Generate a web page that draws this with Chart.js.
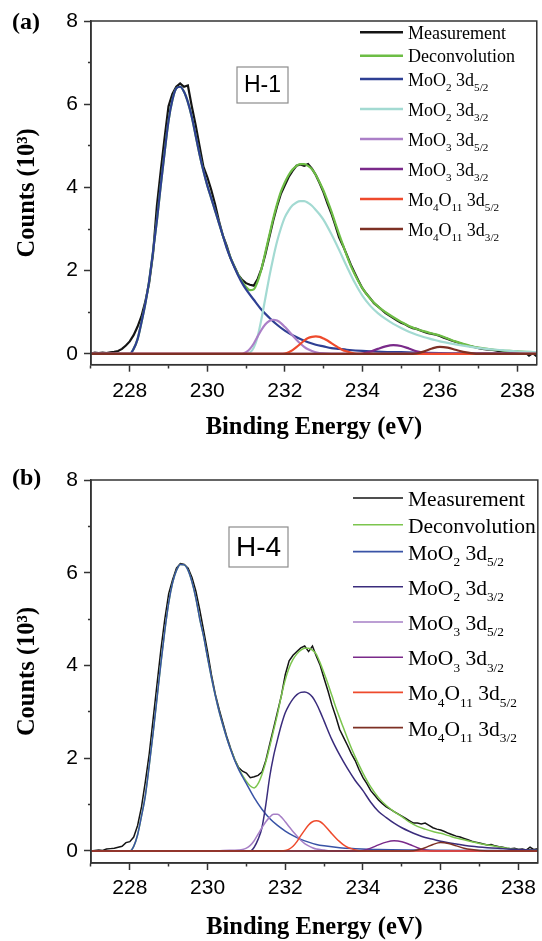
<!DOCTYPE html>
<html>
<head>
<meta charset="utf-8">
<title>Mo 3d XPS deconvolution</title>
<script src="https://cdn.jsdelivr.net/npm/chart.js@4.4.1/dist/chart.umd.min.js"></script>
<style>
  html, body { margin: 0; padding: 0; background: #fff; }
  #page { position: relative; width: 542px; height: 941px; overflow: hidden; }
  .panel { position: absolute; left: 0; width: 542px; }
  #panelA { top: 0; height: 470px; }
  #panelB { top: 450px; height: 510px; }
</style>
</head>
<body>
<div id="page">
  <div class="panel" id="panelA"><canvas id="chartA"></canvas></div>
  <div class="panel" id="panelB"><canvas id="chartB"></canvas></div>
</div>
<script>
// legend names, _{..} marks a subscript
const seriesNames = ['Measurement', 'Deconvolution', 'MoO_{2} 3d_{5/2}', 'MoO_{2} 3d_{3/2}',
  'MoO_{3} 3d_{5/2}', 'MoO_{3} 3d_{3/2}', 'Mo_{4}O_{11} 3d_{5/2}', 'Mo_{4}O_{11} 3d_{3/2}'];
const xTickLabels = [228, 230, 232, 234, 236, 238];
const yTickLabels = [0, 2, 4, 6, 8];

// measured spectra, counts (10^3) every 0.1 eV from 227.0 to 238.5
const energyStart = 227.0, energyStep = 0.1;
const measA = [
  0.01, 0.03, 0.02, 0.03, 0.02, 0.04, 0.05, 0.07, 0.12, 0.2,
  0.3, 0.45, 0.65, 0.9, 1.25, 1.7, 2.4, 3.55, 4.4, 5.2,
  5.95, 6.25, 6.42, 6.5, 6.42, 6.45, 5.95, 5.5, 5.0, 4.5,
  4.25, 3.95, 3.6, 3.2, 2.85, 2.6, 2.3, 2.1, 1.9, 1.78,
  1.7, 1.66, 1.64, 1.8, 2.05, 2.4, 2.8, 3.2, 3.55, 3.85,
  4.05, 4.25, 4.4, 4.52, 4.55, 4.52, 4.56, 4.45, 4.3, 4.1,
  3.88, 3.62, 3.38, 3.1, 2.8, 2.6, 2.38, 2.15, 1.95, 1.76,
  1.58, 1.45, 1.34, 1.22, 1.14, 1.06, 0.98, 0.92, 0.86, 0.8,
  0.75, 0.71, 0.66, 0.62, 0.6, 0.56, 0.53, 0.5, 0.48, 0.46,
  0.43, 0.39, 0.36, 0.32, 0.29, 0.26, 0.23, 0.2, 0.18, 0.16,
  0.14, 0.12, 0.11, 0.1, 0.09, 0.07, 0.07, 0.05, 0.06, 0.04,
  0.05, 0.03, 0.04, -0.04, 0.02, -0.06
];
const measB = [
  0.0, 0.01, 0.02, 0.01, 0.04, 0.05, 0.06, 0.08, 0.1, 0.18,
  0.2, 0.3, 0.55, 0.95, 1.5, 2.1, 2.85, 3.6, 4.35, 5.0,
  5.55, 5.85, 6.1, 6.2, 6.18, 6.1, 5.9, 5.6, 5.2, 4.75,
  4.3, 3.8, 3.38, 3.05, 2.75, 2.45, 2.2, 1.97, 1.8, 1.72,
  1.68, 1.58, 1.6, 1.63, 1.7, 1.95, 2.3, 2.65, 3.0, 3.35,
  3.8, 4.1, 4.22, 4.3, 4.38, 4.42, 4.3, 4.42, 4.2, 4.0,
  3.72, 3.45, 3.15, 2.9, 2.62, 2.45, 2.28, 2.1, 1.95, 1.75,
  1.58, 1.45, 1.3, 1.2, 1.1, 1.02, 0.95, 0.9, 0.85, 0.8,
  0.75, 0.7, 0.65, 0.6, 0.6, 0.58, 0.6, 0.55, 0.5, 0.47,
  0.45, 0.42, 0.38, 0.35, 0.32, 0.3, 0.27, 0.24, 0.21, 0.19,
  0.17, 0.15, 0.13, 0.14, 0.11, 0.09, 0.08, 0.06, 0.05, 0.06,
  0.03, 0.04, 0.02, 0.08, 0.03, 0.05
];

// fitted curves, [energy eV, counts 10^3]
const fitA = [[227,0],[228.0,0],[228.1,0.12],[228.2,0.35],[228.3,0.75],[228.4,1.2],[228.5,1.75],[228.6,2.45],[228.7,3.2],[228.8,4.05],[228.9,4.85],[229.0,5.6],[229.1,6.1],[229.2,6.38],[229.3,6.42],[229.4,6.3],[229.5,6.05],[229.6,5.7],[229.7,5.25],[229.8,4.8],[229.9,4.4],[230.0,4.05],[230.1,3.75],[230.2,3.45],[230.3,3.15],[230.4,2.85],[230.5,2.56],[230.6,2.31],[230.7,2.09],[230.8,1.9],[230.9,1.74],[231.0,1.61],[231.1,1.53],[231.2,1.55],[231.3,1.74],[231.4,2.05],[231.5,2.45],[231.6,2.85],[231.7,3.25],[231.8,3.6],[231.9,3.9],[232.0,4.12],[232.1,4.3],[232.2,4.43],[232.3,4.52],[232.4,4.56],[232.5,4.56],[232.6,4.52],[232.7,4.44],[232.8,4.3],[232.9,4.12],[233.0,3.92],[233.1,3.68],[233.2,3.43],[233.3,3.15],[233.4,2.88],[233.5,2.62],[233.6,2.36],[233.7,2.12],[233.8,1.92],[233.9,1.74],[234.0,1.58],[234.2,1.33],[234.4,1.14],[234.6,1.0],[234.8,0.88],[235.0,0.77],[235.2,0.67],[235.4,0.6],[235.6,0.54],[235.8,0.49],[236.0,0.44],[236.2,0.37],[236.4,0.3],[236.6,0.24],[236.8,0.19],[237.0,0.15],[237.4,0.1],[237.8,0.07],[238.2,0.05],[238.5,0.04]];
const moo2a52 = [[227,0],[228.0,0],[228.1,0.12],[228.2,0.35],[228.3,0.75],[228.4,1.2],[228.5,1.75],[228.6,2.45],[228.7,3.2],[228.8,4.05],[228.9,4.85],[229.0,5.6],[229.1,6.1],[229.2,6.38],[229.3,6.42],[229.4,6.3],[229.5,6.05],[229.6,5.7],[229.7,5.25],[229.8,4.8],[229.9,4.4],[230.0,4.05],[230.1,3.75],[230.2,3.45],[230.3,3.15],[230.4,2.85],[230.5,2.55],[230.6,2.3],[230.7,2.08],[230.8,1.88],[230.9,1.7],[231.0,1.55],[231.2,1.3],[231.4,1.06],[231.6,0.87],[231.8,0.7],[232.0,0.56],[232.2,0.45],[232.4,0.36],[232.6,0.28],[232.8,0.22],[233.0,0.18],[233.2,0.14],[233.4,0.12],[233.6,0.1],[234.0,0.07],[234.5,0.05],[235.0,0.04],[236.0,0.02],[237.0,0.01],[238.5,0.01]];
const moo2a32 = [[227,0],[231.0,0],[231.1,0.03],[231.2,0.15],[231.3,0.42],[231.4,0.85],[231.5,1.35],[231.6,1.85],[231.7,2.3],[231.8,2.7],[231.9,3.02],[232.0,3.28],[232.1,3.45],[232.2,3.57],[232.3,3.64],[232.4,3.67],[232.5,3.67],[232.6,3.63],[232.7,3.56],[232.8,3.46],[232.9,3.35],[233.0,3.22],[233.2,2.88],[233.4,2.5],[233.6,2.1],[233.8,1.72],[234.0,1.4],[234.2,1.16],[234.4,0.98],[234.6,0.84],[234.8,0.72],[235.0,0.62],[235.2,0.53],[235.4,0.46],[235.6,0.4],[235.8,0.35],[236.0,0.3],[236.4,0.23],[236.8,0.17],[237.2,0.12],[237.6,0.09],[238.0,0.06],[238.5,0.04]];
const moo3a52 = [[227,0],[230.9,0],[231.0,0.04],[231.1,0.12],[231.2,0.25],[231.3,0.42],[231.4,0.58],[231.5,0.71],[231.6,0.79],[231.7,0.82],[231.8,0.8],[231.9,0.74],[232.0,0.65],[232.1,0.55],[232.2,0.44],[232.3,0.34],[232.4,0.25],[232.5,0.17],[232.6,0.11],[232.7,0.07],[232.8,0.04],[233.0,0.01],[233.2,0],[238.5,0]];
const moo3a32 = [[227,0],[233.9,0],[234.0,0.01],[234.2,0.05],[234.4,0.12],[234.6,0.18],[234.8,0.21],[235.0,0.19],[235.2,0.13],[235.4,0.06],[235.6,0.02],[235.8,0],[238.5,0]];
const mo4o11a52 = [[227,0],[231.9,0],[232.0,0.01],[232.1,0.04],[232.2,0.09],[232.3,0.16],[232.4,0.24],[232.5,0.32],[232.6,0.38],[232.7,0.41],[232.8,0.42],[232.9,0.41],[233.0,0.37],[233.1,0.32],[233.2,0.26],[233.3,0.2],[233.4,0.14],[233.5,0.09],[233.6,0.06],[233.7,0.03],[233.8,0.01],[233.9,0],[238.5,0]];
const mo4o11a32 = [[227,0],[235.3,0],[235.4,0.01],[235.6,0.06],[235.8,0.13],[236.0,0.17],[236.2,0.15],[236.4,0.1],[236.6,0.05],[236.8,0.02],[237.0,0],[238.5,0]];

const fitB = [[227,0],[228.0,0],[228.1,0.1],[228.2,0.35],[228.3,0.75],[228.4,1.2],[228.5,1.85],[228.6,2.55],[228.7,3.3],[228.8,4.05],[228.9,4.75],[229.0,5.35],[229.1,5.78],[229.2,6.05],[229.3,6.18],[229.4,6.17],[229.5,6.05],[229.6,5.8],[229.7,5.45],[229.8,5.0],[229.9,4.62],[230.0,4.17],[230.1,3.74],[230.2,3.35],[230.3,3.0],[230.4,2.7],[230.5,2.42],[230.6,2.18],[230.7,1.97],[230.8,1.78],[230.9,1.63],[231.0,1.5],[231.1,1.4],[231.2,1.36],[231.3,1.45],[231.4,1.65],[231.5,1.92],[231.6,2.25],[231.7,2.6],[231.8,2.95],[231.9,3.35],[232.0,3.69],[232.1,3.95],[232.2,4.13],[232.3,4.25],[232.4,4.33],[232.5,4.37],[232.6,4.37],[232.7,4.33],[232.8,4.24],[232.9,4.05],[233.0,3.83],[233.1,3.6],[233.2,3.35],[233.3,3.1],[233.4,2.87],[233.5,2.65],[233.6,2.43],[233.7,2.22],[233.8,2.03],[233.9,1.85],[234.0,1.68],[234.2,1.38],[234.4,1.15],[234.6,0.98],[234.8,0.85],[235.0,0.74],[235.2,0.62],[235.4,0.53],[235.6,0.47],[235.8,0.42],[236.0,0.38],[236.2,0.33],[236.4,0.28],[236.6,0.24],[236.8,0.2],[237.0,0.16],[237.2,0.13],[237.4,0.1],[237.6,0.07],[237.8,0.05],[238.0,0.03],[238.5,0.02]];
const moo2b52 = [[227,0],[228.0,0],[228.1,0.1],[228.2,0.35],[228.3,0.75],[228.4,1.2],[228.5,1.85],[228.6,2.55],[228.7,3.3],[228.8,4.05],[228.9,4.75],[229.0,5.35],[229.1,5.78],[229.2,6.05],[229.3,6.18],[229.4,6.17],[229.5,6.05],[229.6,5.8],[229.7,5.45],[229.8,5.0],[229.9,4.62],[230.0,4.17],[230.1,3.74],[230.2,3.35],[230.3,3.0],[230.4,2.7],[230.5,2.42],[230.6,2.17],[230.7,1.95],[230.8,1.76],[230.9,1.6],[231.0,1.45],[231.2,1.15],[231.4,0.9],[231.6,0.7],[231.8,0.55],[232.0,0.43],[232.2,0.33],[232.4,0.25],[232.6,0.19],[232.8,0.14],[233.0,0.11],[233.4,0.07],[233.8,0.05],[234.4,0.03],[235.5,0.02],[237.0,0.01],[238.5,0.01]];
const moo2b32 = [[227,0],[231.1,0],[231.2,0.08],[231.3,0.25],[231.4,0.5],[231.5,1.0],[231.6,1.6],[231.7,2.05],[231.8,2.4],[231.9,2.72],[232.0,2.98],[232.1,3.15],[232.2,3.28],[232.3,3.37],[232.4,3.42],[232.5,3.43],[232.6,3.4],[232.7,3.32],[232.8,3.18],[232.9,3.0],[233.0,2.8],[233.2,2.4],[233.4,2.07],[233.6,1.78],[233.8,1.52],[234.0,1.3],[234.2,1.05],[234.4,0.85],[234.6,0.72],[234.8,0.6],[235.0,0.5],[235.2,0.42],[235.4,0.35],[235.6,0.29],[235.8,0.25],[236.0,0.21],[236.4,0.15],[236.8,0.1],[237.2,0.07],[237.6,0.05],[238.0,0.03],[238.5,0.02]];
const moo3b52 = [[227,0],[230.2,0],[230.4,0.01],[230.8,0.02],[230.9,0.03],[231.0,0.06],[231.1,0.12],[231.2,0.22],[231.3,0.36],[231.4,0.5],[231.5,0.63],[231.6,0.73],[231.7,0.79],[231.8,0.79],[231.9,0.73],[232.0,0.63],[232.1,0.52],[232.2,0.42],[232.3,0.32],[232.4,0.23],[232.5,0.16],[232.6,0.11],[232.7,0.07],[232.8,0.04],[233.0,0.02],[233.2,0],[238.5,0]];
const moo3b32 = [[227,0],[233.9,0],[234.0,0.01],[234.2,0.06],[234.4,0.13],[234.6,0.19],[234.8,0.22],[235.0,0.2],[235.2,0.14],[235.4,0.07],[235.6,0.02],[235.8,0],[238.5,0]];
const mo4o11b52 = [[227,0],[231.9,0],[232.0,0.01],[232.1,0.04],[232.2,0.1],[232.3,0.2],[232.4,0.33],[232.5,0.45],[232.6,0.56],[232.7,0.63],[232.8,0.65],[232.9,0.63],[233.0,0.56],[233.1,0.47],[233.2,0.37],[233.3,0.28],[233.4,0.2],[233.5,0.13],[233.6,0.08],[233.7,0.05],[233.8,0.02],[234.0,0],[238.5,0]];
const mo4o11b32 = [[227,0],[235.2,0],[235.4,0.02],[235.6,0.07],[235.8,0.14],[236.0,0.18],[236.2,0.16],[236.4,0.11],[236.6,0.06],[236.8,0.03],[237.0,0.01],[237.2,0],[238.5,0]];

const colorsA = ['#141414', '#6dbd45', '#2e3f93', '#a3dad2', '#ab7fc7', '#7a2a8a', '#ee4a2c', '#7d3024'];
const colorsB = ['#141414', '#7cc54e', '#3953a6', '#3a2c7c', '#a67fc6', '#7a2a8a', '#ee4a2c', '#7d3024'];
const axisColor = '#333';
const subDigits = '₀₁₂₃₄₅₆₇₈₉';

function plainName(name) {
  return name.replace(/_\{([^}]*)\}/g, (m, s) => s.replace(/\d/g, d => subDigits[d]));
}

function buildDatasets(meas, curves, colors, width) {
  const measPts = meas.map((y, i) => ({ x: +(energyStart + i * energyStep).toFixed(1), y }));
  const all = [measPts].concat(curves.map(c => c.map(p => ({ x: p[0], y: p[1] }))));
  return all.map((pts, i) => ({
    label: plainName(seriesNames[i]),
    data: pts,
    borderColor: colors[i],
    borderWidth: width,
    pointRadius: 0,
    tension: 0,
    cubicInterpolationMode: i === 0 ? 'default' : 'monotone',
    order: all.length - i   // last fit component drawn on top
  }));
}

function drawRich(ctx, text, x, baseline, size) {
  ctx.textAlign = 'left';
  ctx.textBaseline = 'alphabetic';
  text.split(/(_\{[^}]*\})/).forEach(part => {
    if (!part) return;
    const sub = part.startsWith('_{');
    const s = sub ? part.slice(2, -1) : part;
    const fs = sub ? size * 0.62 : size;
    ctx.font = fs + 'px "Liberation Serif", "Times New Roman", serif';
    ctx.fillText(s, x, baseline + (sub ? size * 0.3 : 0));
    x += ctx.measureText(s).width;
  });
}

// frame, panel letter, sample tag and legend
const panelDecor = {
  id: 'panelDecor',
  afterDraw(chart, args, o) {
    const ctx = chart.ctx;
    const a = chart.chartArea;
    ctx.save();
    ctx.strokeStyle = axisColor;
    ctx.lineWidth = 1.5;
    ctx.strokeRect(a.left, a.top, a.right - a.left, a.bottom - a.top);

    ctx.fillStyle = '#000';
    ctx.textAlign = 'left';
    ctx.textBaseline = 'middle';
    ctx.font = 'bold 24px "Liberation Serif", "Times New Roman", serif';
    ctx.fillText(o.letter, 12, o.letterY);

    const t = o.tag;
    ctx.strokeStyle = '#8c8c8c';
    ctx.lineWidth = 1.2;
    ctx.strokeRect(t.x0, t.y0, t.x1 - t.x0, t.y1 - t.y0);
    ctx.textAlign = 'center';
    ctx.font = t.size + 'px "Liberation Sans", Arial, sans-serif';
    ctx.fillText(t.text, (t.x0 + t.x1) / 2, (t.y0 + t.y1) / 2 + 1);

    const L = o.legend;
    let y = L.top;
    chart.data.datasets.forEach((ds, i) => {
      const name = seriesNames[i];
      ctx.strokeStyle = ds.borderColor;
      ctx.lineWidth = L.lineWidth;
      ctx.beginPath();
      ctx.moveTo(L.x0, y);
      ctx.lineTo(L.x1, y);
      ctx.stroke();
      ctx.fillStyle = '#000';
      drawRich(ctx, name, L.textX, y + 0.37 * L.size, L.size);
      y += name.includes('_{') ? L.gapSub : L.gapPlain;
    });
    ctx.restore();
  }
};

const tickFont = { family: '"Liberation Sans", Arial, sans-serif', size: 21 };
const titleFont = { family: '"Liberation Serif", "Times New Roman", serif', size: 24.5, weight: 'bold' };

function makeChart(id, datasets, p) {
  return new Chart(document.getElementById(id), {
    type: 'line',
    data: { datasets },
    options: {
      animation: false,
      responsive: true,
      maintainAspectRatio: false,
      layout: { padding: p.padding },
      plugins: {
        legend: { display: false },
        tooltip: { enabled: false },
        panelDecor: p.decor
      },
      scales: {
        x: {
          type: 'linear',
          min: 227,
          max: 238.5,
          border: { display: true, color: axisColor, width: 1.5 },
          grid: {
            drawOnChartArea: false,
            tickLength: 7,
            tickColor: axisColor,
            tickWidth: 1.5,
            tickBorderDash: c => xTickLabels.includes(c.tick.value) ? [] : [3, 20]
          },
          ticks: {
            stepSize: 1,
            includeBounds: false,
            autoSkip: false,
            maxRotation: 0,
            padding: p.xPad,
            color: '#000',
            font: tickFont,
            callback: v => xTickLabels.includes(v) ? String(v) : ''
          },
          title: {
            display: true,
            text: 'Binding Energy (eV)',
            color: '#000',
            font: titleFont,
            padding: { top: p.xTitlePad, bottom: 0 }
          }
        },
        y: {
          min: -0.26,
          max: 8,
          border: { display: true, color: axisColor, width: 1.5 },
          grid: {
            drawOnChartArea: false,
            tickLength: 7,
            tickColor: axisColor,
            tickWidth: 1.5,
            tickBorderDash: c => yTickLabels.includes(c.tick.value) ? [] : [0, 4, 3, 20]
          },
          ticks: {
            stepSize: 1,
            includeBounds: false,
            autoSkip: false,
            padding: 6,
            color: '#000',
            font: tickFont,
            callback: v => yTickLabels.includes(v) ? String(v) : ''
          },
          title: {
            display: true,
            text: 'Counts (10³)',
            color: '#000',
            font: titleFont,
            padding: { top: 4, bottom: 17.6 }
          }
        }
      }
    },
    plugins: [panelDecor]
  });
}

makeChart('chartA',
  buildDatasets(measA, [fitA, moo2a52, moo2a32, moo3a52, moo3a32, mo4o11a52, mo4o11a32], colorsA, 2.2),
  {
    padding: { top: 21, right: 2, bottom: 27.3, left: 9.3 },
    xPad: 7,
    xTitlePad: 2.4,
    decor: {
      letter: '(a)', letterY: 23,
      tag: { text: 'H-1', x0: 237, y0: 67, x1: 288, y1: 103, size: 23 },
      legend: { top: 32.3, x0: 360, x1: 403, textX: 408, size: 18, lineWidth: 2.5, gapPlain: 23.4, gapSub: 30 }
    }
  });

makeChart('chartB',
  buildDatasets(measB, [fitB, moo2b52, moo2b32, moo3b52, moo3b32, mo4o11b52, mo4o11b32], colorsB, 1.5),
  {
    padding: { top: 30, right: 2, bottom: 17.3, left: 9.3 },
    xPad: 6,
    xTitlePad: 6.1,
    decor: {
      letter: '(b)', letterY: 29,
      tag: { text: 'H-4', x0: 229, y0: 77, x1: 288, y1: 117, size: 28 },
      legend: { top: 48, x0: 353, x1: 403, textX: 408, size: 21.5, lineWidth: 1.6, gapPlain: 26.8, gapSub: 35.2 }
    }
  });
</script>
</body>
</html>
